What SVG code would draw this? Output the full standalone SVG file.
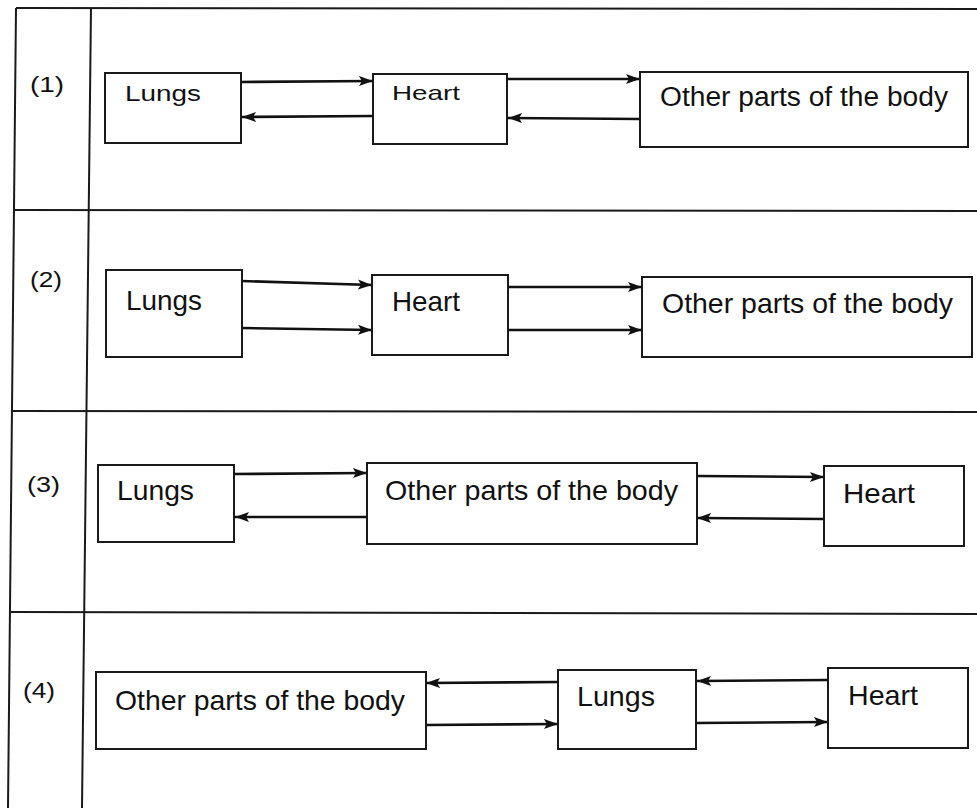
<svg xmlns="http://www.w3.org/2000/svg" width="977" height="808" viewBox="0 0 977 808">
<style>
.grid{stroke:#1a1a1a;stroke-width:2;fill:none}
.box{fill:#fff;stroke:#1a1a1a;stroke-width:2}
.lbl{font-family:"Liberation Sans",Arial,sans-serif;fill:#111}
.num{font-family:"Liberation Sans",Arial,sans-serif;font-size:22px;fill:#111}
.arr{stroke:#111;stroke-width:2.6;fill:none;marker-end:url(#ah)}
</style>
<defs>
<marker id="ah" markerUnits="userSpaceOnUse" markerWidth="15" markerHeight="11" refX="14" refY="5.5" orient="auto">
<path d="M0,0.5 L14,5.5 L0,10.5 L3,5.5 z" fill="#111"/>
</marker>
</defs>
<rect width="977" height="808" fill="#fff"/>
<g id="table">
<line class="grid" x1="16" y1="8" x2="977" y2="9"/>
<line class="grid" x1="15" y1="210" x2="977" y2="211"/>
<line class="grid" x1="13" y1="411" x2="977" y2="412"/>
<line class="grid" x1="11" y1="612" x2="977" y2="614"/>
<line class="grid" x1="16" y1="8" x2="8" y2="808"/>
<line class="grid" x1="91" y1="8" x2="82" y2="808"/>
<text class="num" x="30" y="92" textLength="34" lengthAdjust="spacingAndGlyphs">(1)</text>
<text class="num" x="30" y="287" textLength="32" lengthAdjust="spacingAndGlyphs">(2)</text>
<text class="num" x="27" y="492" textLength="33" lengthAdjust="spacingAndGlyphs">(3)</text>
<text class="num" x="23" y="698" textLength="32" lengthAdjust="spacingAndGlyphs">(4)</text>
</g>
<g id="connectors">
<line class="arr" x1="241" y1="82" x2="373" y2="81"/>
<line class="arr" x1="373" y1="116" x2="242" y2="117"/>
<line class="arr" x1="507" y1="79" x2="640" y2="79"/>
<line class="arr" x1="640" y1="119" x2="508" y2="118"/>
<line class="arr" x1="242" y1="281" x2="372" y2="285"/>
<line class="arr" x1="242" y1="328" x2="372" y2="330"/>
<line class="arr" x1="508" y1="287" x2="642" y2="287"/>
<line class="arr" x1="508" y1="330" x2="642" y2="330"/>
<line class="arr" x1="234" y1="474" x2="367" y2="473"/>
<line class="arr" x1="367" y1="517" x2="235" y2="517"/>
<line class="arr" x1="697" y1="476" x2="824" y2="477"/>
<line class="arr" x1="824" y1="519" x2="697" y2="518"/>
<line class="arr" x1="558" y1="682" x2="426" y2="683"/>
<line class="arr" x1="426" y1="725" x2="558" y2="724"/>
<line class="arr" x1="828" y1="680" x2="697" y2="681"/>
<line class="arr" x1="696" y1="723" x2="828" y2="722"/>
</g>
<g id="r1-lungs"><rect class="box" x="105" y="73" width="136" height="70"/><text class="lbl" x="125" y="101" font-size="22" textLength="76" lengthAdjust="spacingAndGlyphs">Lungs</text></g>
<g id="r1-heart"><rect class="box" x="373" y="74" width="134" height="70"/><text class="lbl" x="392" y="100" font-size="21" textLength="68" lengthAdjust="spacingAndGlyphs">Heart</text></g>
<g id="r1-other"><rect class="box" x="640" y="72" width="328" height="75"/><text class="lbl" x="660" y="106" font-size="27" textLength="288" lengthAdjust="spacingAndGlyphs">Other parts of the body</text></g>
<g id="r2-lungs"><rect class="box" x="106" y="270" width="136" height="87"/><text class="lbl" x="126" y="310" font-size="28" textLength="76" lengthAdjust="spacingAndGlyphs">Lungs</text></g>
<g id="r2-heart"><rect class="box" x="372" y="275" width="136" height="80"/><text class="lbl" x="392" y="311" font-size="28" textLength="68" lengthAdjust="spacingAndGlyphs">Heart</text></g>
<g id="r2-other"><rect class="box" x="642" y="277" width="330" height="80"/><text class="lbl" x="662" y="313" font-size="28" textLength="291" lengthAdjust="spacingAndGlyphs">Other parts of the body</text></g>
<g id="r3-lungs"><rect class="box" x="98" y="465" width="136" height="77"/><text class="lbl" x="117" y="500" font-size="27" textLength="77" lengthAdjust="spacingAndGlyphs">Lungs</text></g>
<g id="r3-other"><rect class="box" x="367" y="463" width="330" height="81"/><text class="lbl" x="385" y="500" font-size="28" textLength="293" lengthAdjust="spacingAndGlyphs">Other parts of the body</text></g>
<g id="r3-heart"><rect class="box" x="824" y="466" width="140" height="80"/><text class="lbl" x="843" y="503" font-size="28" textLength="72" lengthAdjust="spacingAndGlyphs">Heart</text></g>
<g id="r4-other"><rect class="box" x="96" y="672" width="330" height="77"/><text class="lbl" x="115" y="710" font-size="28" textLength="290" lengthAdjust="spacingAndGlyphs">Other parts of the body</text></g>
<g id="r4-lungs"><rect class="box" x="558" y="670" width="138" height="79"/><text class="lbl" x="577" y="706" font-size="28" textLength="78" lengthAdjust="spacingAndGlyphs">Lungs</text></g>
<g id="r4-heart"><rect class="box" x="828" y="668" width="140" height="80"/><text class="lbl" x="848" y="705" font-size="28" textLength="70" lengthAdjust="spacingAndGlyphs">Heart</text></g>
</svg>
